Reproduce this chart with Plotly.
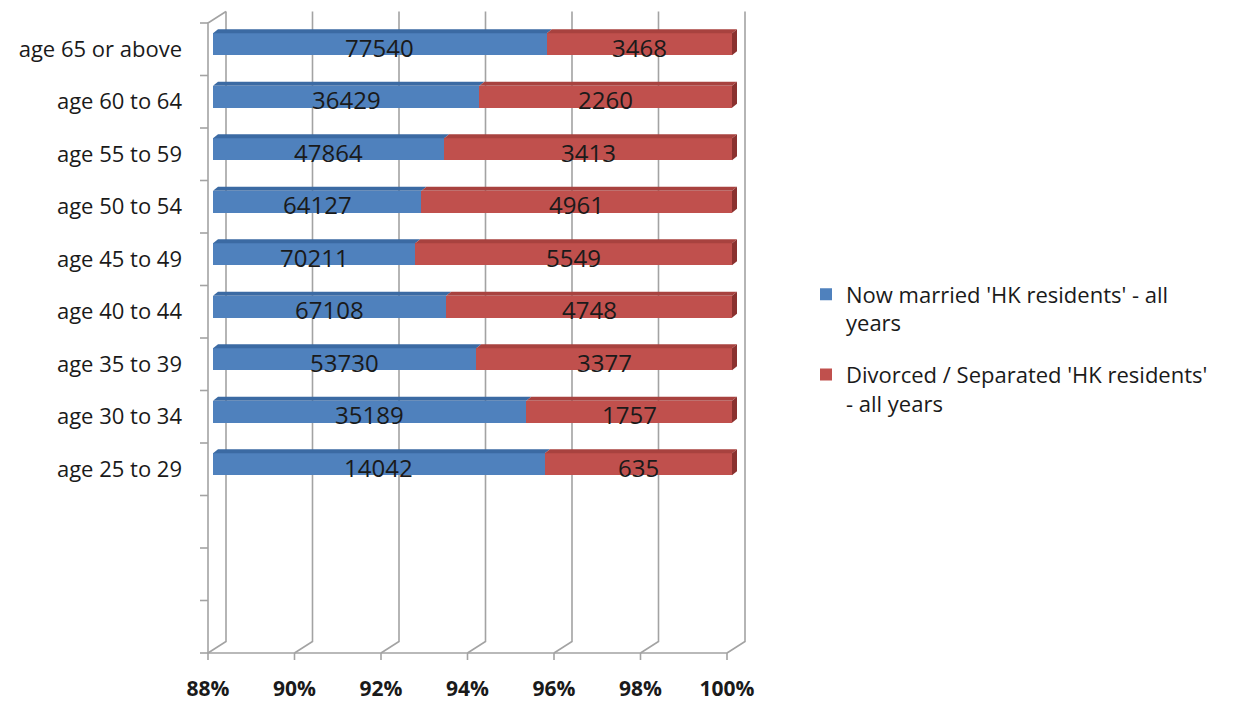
import plotly.graph_objects as go

# ---- data -------------------------------------------------------------
categories = ["age 25 to 29", "age 30 to 34", "age 35 to 39", "age 40 to 44",
              "age 45 to 49", "age 50 to 54", "age 55 to 59", "age 60 to 64",
              "age 65 or above"]
married = [14042, 35189, 53730, 67108, 70211, 64127, 47864, 36429, 77540]
divorced = [635, 1757, 3377, 4748, 5549, 4961, 3413, 2260, 3468]
x_ticks = [0.88, 0.90, 0.92, 0.94, 0.96, 0.98, 1.00]
series_names = ["Now married 'HK residents' - all<br>years",
                "Divorced / Separated 'HK residents'<br>- all years"]

# ---- styling / geometry -------------------------------------------------
W, H = 1233, 704
M_L, M_R, M_T, M_B = 213, 501, 18, 56
PW, PH = W - M_L - M_R, H - M_T - M_B
X_RANGE = [0.88, 1.00]
Y_RANGE = [-3.5, 8.5]          # three empty rows below the youngest group
BAR_W = 0.42
FONT = "Open Sans"

BLUE, BLUE_TOP = "#4F81BD", "#3B6AA3"
RED, RED_TOP, RED_SIDE = "#C0504D", "#A8423F", "#8A312F"
GRID = "#A3A3A3"

FRONT = (-5, -5)   # pixel offset of the front plane (x, y; y up)
BACK = (13, 6.5)   # pixel offset of the back wall
DEPTH = (5, 4)     # pixel depth of the bars themselves

totals = [m + d for m, d in zip(married, divorced)]
share_m = [m / t for m, t in zip(married, totals)]
share_d = [d / t for d, t in zip(divorced, totals)]


def xd(v, px=0.0):
    return (v - X_RANGE[0]) / (X_RANGE[1] - X_RANGE[0]) + px / PW


def yd(v, px=0.0):
    return (v - Y_RANGE[0]) / (Y_RANGE[1] - Y_RANGE[0]) + px / PH


def poly(points):
    return "M " + " L ".join(f"{x:.5f},{y:.5f}" for x, y in points) + " Z"


def line_path(points):
    return "M " + " L ".join(f"{x:.5f},{y:.5f}" for x, y in points)


fig = go.Figure()
fig.add_trace(go.Bar(y=categories, x=share_m, orientation="h", width=BAR_W,
                     name=series_names[0], legendgroup="a",
                     marker=dict(color=BLUE, line=dict(width=0)),
                     hoverinfo="skip"))
fig.add_trace(go.Bar(y=categories, x=share_d, orientation="h", width=BAR_W,
                     name=series_names[1], legendgroup="b",
                     marker=dict(color=RED, line=dict(width=0)),
                     hoverinfo="skip"))

shapes = []
dom = dict(xref="x domain", yref="y domain")

# back wall gridlines with their floor diagonals
for v in x_ticks:
    shapes.append(dict(type="path", layer="below", **dom,
                       path=line_path([(xd(v, BACK[0]), yd(Y_RANGE[1], BACK[1])),
                                       (xd(v, BACK[0]), yd(Y_RANGE[0], BACK[1])),
                                       (xd(v, FRONT[0]), yd(Y_RANGE[0], FRONT[1]))]),
                       line=dict(color=GRID, width=1.6)))

# front axis lines and the top edge of the side wall
shapes.append(dict(type="path", layer="below", **dom,
                   path=line_path([(xd(X_RANGE[0], BACK[0]), yd(Y_RANGE[1], BACK[1])),
                                   (xd(X_RANGE[0], FRONT[0]), yd(Y_RANGE[1], FRONT[1])),
                                   (xd(X_RANGE[0], FRONT[0]), yd(Y_RANGE[0], FRONT[1])),
                                   (xd(X_RANGE[1], FRONT[0]), yd(Y_RANGE[0], FRONT[1]))]),
                   line=dict(color=GRID, width=1.6)))

# category tick marks (slot boundaries) on the front y axis
b = Y_RANGE[0]
while b <= Y_RANGE[1] + 1e-9:
    shapes.append(dict(type="line", layer="below", **dom,
                       x0=xd(X_RANGE[0], FRONT[0] - 8), x1=xd(X_RANGE[0], FRONT[0]),
                       y0=yd(b, FRONT[1]), y1=yd(b, FRONT[1]),
                       line=dict(color=GRID, width=1.6)))
    b += 1

# value tick marks under the front x axis
for v in x_ticks:
    shapes.append(dict(type="line", layer="below", **dom,
                       x0=xd(v, FRONT[0]), x1=xd(v, FRONT[0]),
                       y0=yd(Y_RANGE[0], FRONT[1]), y1=yd(Y_RANGE[0], FRONT[1] - 7),
                       line=dict(color=GRID, width=1.6)))

# bar tops and end caps for the 3-D look
for i, p in enumerate(share_m):
    top = i + BAR_W / 2
    bot = i - BAR_W / 2
    for a, c, col in ((X_RANGE[0], p, BLUE_TOP), (p, X_RANGE[1], RED_TOP)):
        shapes.append(dict(type="path", layer="above", **dom,
                           path=poly([(xd(a), yd(top)), (xd(a, DEPTH[0]), yd(top, DEPTH[1])),
                                      (xd(c, DEPTH[0]), yd(top, DEPTH[1])), (xd(c), yd(top))]),
                           fillcolor=col, line=dict(width=0)))
    shapes.append(dict(type="path", layer="above", **dom,
                       path=poly([(xd(X_RANGE[1]), yd(bot)), (xd(X_RANGE[1]), yd(top)),
                                  (xd(X_RANGE[1], DEPTH[0]), yd(top, DEPTH[1])),
                                  (xd(X_RANGE[1], DEPTH[0]), yd(bot, DEPTH[1]))]),
                       fillcolor=RED_SIDE, line=dict(width=0)))

# value labels centred on the visible part of each segment
annotations = []
for i, cat in enumerate(categories):
    p = share_m[i]
    for xc, val in (((X_RANGE[0] + p) / 2, married[i]), ((p + X_RANGE[1]) / 2, divorced[i])):
        annotations.append(dict(x=xc, y=cat, xref="x", yref="y", text=str(val),
                                showarrow=False, yshift=-3,
                                font=dict(family=FONT, size=24, color="#1a1a1a")))

fig.update_layout(
    width=W, height=H,
    margin=dict(l=M_L, r=M_R, t=M_T, b=M_B, autoexpand=False),
    paper_bgcolor="white", plot_bgcolor="white",
    barmode="stack",
    showlegend=True,
    legend=dict(x=(806 - M_L) / PW, xanchor="left",
                y=(H - M_B - 349) / PH, yanchor="middle",
                traceorder="grouped", tracegroupgap=20, valign="top",
                font=dict(family=FONT, size=22, color="#1a1a1a"),
                bgcolor="rgba(0,0,0,0)"),
    xaxis=dict(range=X_RANGE, tickvals=x_ticks, tickformat=".0%",
               showgrid=False, zeroline=False, showline=False, ticks="",
               ticklabelshift=FRONT[0], ticklabelstandoff=26,
               tickfont=dict(family=FONT, size=21, color="#1a1a1a", weight="bold")),
    yaxis=dict(type="category", categoryorder="array", categoryarray=categories,
               range=Y_RANGE, showgrid=False, zeroline=False, showline=False, ticks="",
               ticklabelshift=-FRONT[1], ticklabelstandoff=30,
               tickfont=dict(family=FONT, size=22, color="#1a1a1a")),
    shapes=shapes,
    annotations=annotations,
)

fig.write_html("out.html")
